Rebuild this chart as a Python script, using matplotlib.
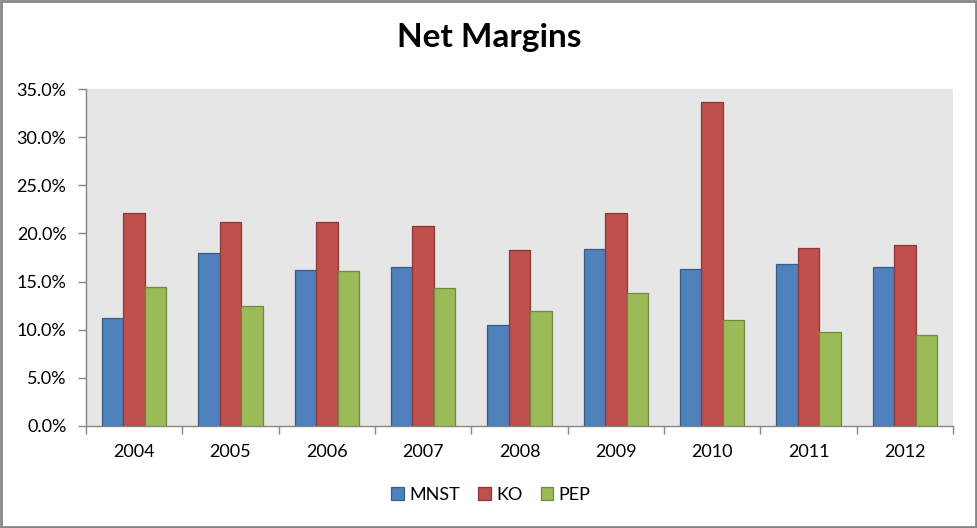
import matplotlib
matplotlib.use("Agg")
import matplotlib.pyplot as plt
import numpy as np
from matplotlib.ticker import FuncFormatter, FixedLocator
from matplotlib.patches import Rectangle

years = ["2004", "2005", "2006", "2007", "2008", "2009", "2010", "2011", "2012"]
mnst = [11.2, 18.0, 16.2, 16.5, 10.45, 18.35, 16.3, 16.8, 16.5]
ko = [22.1, 21.15, 21.15, 20.75, 18.25, 22.1, 33.7, 18.45, 18.75]
pep = [14.4, 12.5, 16.05, 14.3, 11.9, 13.8, 11.0, 9.75, 9.4]
series_names = ["MNST", "KO", "PEP"]
face_colors = ["#4F81BD", "#C0504D", "#9BBB59"]
edge_colors = ["#385D8A", "#8C3836", "#71893F"]

plt.rcParams['font.family'] = ['Lato', 'DejaVu Sans']

fig = plt.figure(figsize=(9.78, 5.28), dpi=100)
ax = fig.add_axes([86/978, 1-426/528, (953-86)/978, (426-89)/528])
ax.set_facecolor("#E6E6E6")

x = np.arange(len(years))
w = 1/4.5
for i, (vals, fc, ec, nm) in enumerate(zip([mnst, ko, pep], face_colors, edge_colors, series_names)):
    ax.bar(x + (i-1)*w, vals, width=w, color=fc, edgecolor=ec, linewidth=0.9, label=nm, zorder=3)

ax.set_xlim(-0.5, len(years)-0.5)
ax.set_ylim(0, 35)
ax.yaxis.set_major_locator(FixedLocator(np.arange(0, 35.1, 5)))
ax.yaxis.set_major_formatter(FuncFormatter(lambda v, p: f"{v:.1f}%"))
ax.set_xticks(x)
ax.set_xticklabels(years)
ax.set_xticks(np.arange(-0.5, len(years)), minor=True)
ax.tick_params(axis='x', which='major', length=0, pad=13, labelsize=13)
ax.tick_params(axis='x', which='minor', length=6, color="#868686", width=1)
ax.tick_params(axis='y', which='major', length=6, color="#868686", width=1, labelsize=13, pad=8)

for s in ['top', 'right']:
    ax.spines[s].set_visible(False)
for s in ['left', 'bottom']:
    ax.spines[s].set_color("#868686")
    ax.spines[s].set_linewidth(1)

fig.text(489/978, 1-38/528, "Net Margins", ha='center', va='center', fontsize=24, fontweight='bold')

leg = fig.legend(loc='center', bbox_to_anchor=(491/978, 1-495/528), ncol=3, frameon=False,
                 fontsize=13, handlelength=0.7, handleheight=0.7, handletextpad=0.3,
                 columnspacing=1.0)

fig.patches.append(Rectangle((0.001, 0.002), 0.997, 0.996, transform=fig.transFigure,
                             fill=False, edgecolor="#868686", linewidth=2))

fig.savefig("out.png", dpi=100)
